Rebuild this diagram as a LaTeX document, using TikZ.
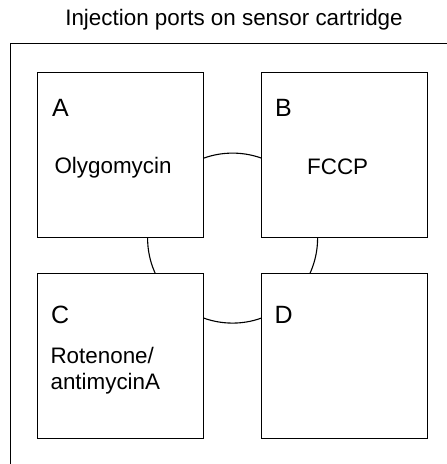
\documentclass[tikz,border=0pt]{standalone}
\usepackage{fontspec}
\setmainfont{Liberation Sans}
\usetikzlibrary{positioning,backgrounds}

\begin{document}
\begin{tikzpicture}[x=1pt,y=-1pt,node distance=35pt and 57pt,line width=1.1pt,
  port/.style={draw,fill=white,line width=1.1pt,minimum width=166pt,minimum height=165pt,inner sep=0pt},
  tag/.style={anchor=base west,inner sep=0pt,font=\fontsize{25}{30}\selectfont},
  drug/.style={anchor=base west,inner sep=0pt,font=\fontsize{22.4}{26}\selectfont}]
\useasboundingbox (0,0) rectangle (447,464);
\clip (0,0) rectangle (447,464);
\node[anchor=base,inner sep=0pt,font=\fontsize{22.4}{26}\selectfont] (title) at (234,25) {Injection ports on sensor cartridge};
\node[draw,line width=1.1pt,anchor=north west,minimum width=480pt,minimum height=460pt,inner sep=0pt] (cart) at (9.5,42.5) {};
\node[port,anchor=north west] (a) at (37,72) {};
\node[port,right=of a] (b) {};
\node[port,below=of a] (c) {};
\node[port,right=of c] (d) {};
% ring of tubing between the ports
\path (a.south east) -- (b.south west) coordinate[midway] (ring);
\begin{scope}[on background layer]
\draw[line width=1.1pt] (ring) circle (85pt);
\end{scope}
\node[tag] (la) at ([shift={(14.5,44)}]a.north west) {A};
\node[tag] (lb) at ([shift={(13.5,44)}]b.north west) {B};
\node[tag] (lc) at ([shift={(13.5,50)}]c.north west) {C};
\node[tag] (ld) at ([shift={(13,50)}]d.north west) {D};
\node[drug] (da) at ([shift={(17,101)}]a.north west) {Olygomycin};
\node[drug] (db) at ([shift={(45.5,102)}]b.north west) {FCCP};
\node[drug] (dc) at ([shift={(13,90)}]c.north west) {Rotenone/};
\node[drug] (dc2) at ([shift={(0,26)}]dc.base west) {antimycinA};
\end{tikzpicture}
\end{document}
